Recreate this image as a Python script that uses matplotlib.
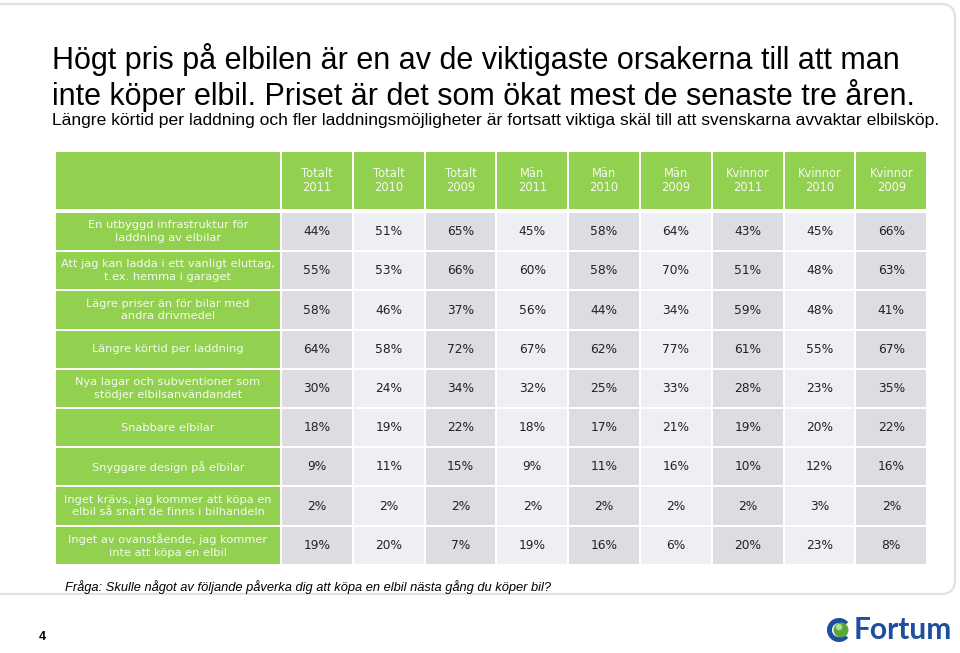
import matplotlib
matplotlib.use('Agg')
import matplotlib.pyplot as plt
from matplotlib.patches import Rectangle, FancyBboxPatch, Circle, Wedge

# ---- data ----
columns = ['Totalt\n2011', 'Totalt\n2010', 'Totalt\n2009',
           'Män\n2011', 'Män\n2010', 'Män\n2009',
           'Kvinnor\n2011', 'Kvinnor\n2010', 'Kvinnor\n2009']

row_labels = [
    'En utbyggd infrastruktur för\nladdning av elbilar',
    'Att jag kan ladda i ett vanligt eluttag,\nt.ex. hemma i garaget',
    'Lägre priser än för bilar med\nandra drivmedel',
    'Längre körtid per laddning',
    'Nya lagar och subventioner som\nstödjer elbilsanvändandet',
    'Snabbare elbilar',
    'Snyggare design på elbilar',
    'Inget krävs, jag kommer att köpa en\nelbil så snart de finns i bilhandeln',
    'Inget av ovanstående, jag kommer\ninte att köpa en elbil',
]

infrastruktur = [44, 51, 65, 45, 58, 64, 43, 45, 66]
eluttag       = [55, 53, 66, 60, 58, 70, 51, 48, 63]
lagre_priser  = [58, 46, 37, 56, 44, 34, 59, 48, 41]
kortid        = [64, 58, 72, 67, 62, 77, 61, 55, 67]
lagar         = [30, 24, 34, 32, 25, 33, 28, 23, 35]
snabbare      = [18, 19, 22, 18, 17, 21, 19, 20, 22]
design        = [9, 11, 15, 9, 11, 16, 10, 12, 16]
inget_kravs   = [2, 2, 2, 2, 2, 2, 2, 3, 2]
inget_av      = [19, 20, 7, 19, 16, 6, 20, 23, 8]
values = [infrastruktur, eluttag, lagre_priser, kortid, lagar,
          snabbare, design, inget_kravs, inget_av]

title_lines = ['Högt pris på elbilen är en av de viktigaste orsakerna till att man',
               'inte köper elbil. Priset är det som ökat mest de senaste tre åren.']
subtitle = ('Längre körtid per laddning och fler laddningsmöjligheter är fortsatt '
            'viktiga skäl till att svenskarna avvaktar elbilsköp.')
question = 'Fråga: Skulle något av följande påverka dig att köpa en elbil nästa gång du köper bil?'

# ---- layout (pixels) ----
GREEN = '#92d050'
DARK_CELL = '#dcdde2'
LIGHT_CELL = '#eeeff2'
GAP = 2
LABEL_X0, LABEL_X1 = 56, 282
COL_W = 71.8
HEAD_Y0, HEAD_Y1 = 152, 209
ROW_Y0, ROW_H = 213, 39.2

fig = plt.figure(figsize=(9.6, 6.53), dpi=100)
ax = fig.add_axes([0, 0, 1, 1])
ax.set_xlim(0, 960)
ax.set_ylim(653, 0)
ax.axis('off')

# slide frame
ax.add_patch(FancyBboxPatch((-30, 4), 985, 590, boxstyle='round,pad=0,rounding_size=14',
                            fc='white', ec='#e2e2e2', lw=1.6))

title_font = 'Liberation Sans'
ax.text(52, 60, title_lines[0], fontsize=22, family=title_font, va='center', color='black')
ax.text(52, 95, title_lines[1], fontsize=22, family=title_font, va='center', color='black')
ax.text(52, 121, subtitle, fontsize=12.6, family=title_font, va='center', color='black')

# header row
ax.add_patch(Rectangle((LABEL_X0, HEAD_Y0), LABEL_X1 - LABEL_X0 - GAP, HEAD_Y1 - HEAD_Y0,
                       fc=GREEN, ec='none'))
for j, col in enumerate(columns):
    x0 = LABEL_X1 + j * COL_W
    ax.add_patch(Rectangle((x0, HEAD_Y0), COL_W - GAP, HEAD_Y1 - HEAD_Y0, fc=GREEN, ec='none'))
    ax.text(x0 + (COL_W - GAP) / 2, (HEAD_Y0 + HEAD_Y1) / 2, col, ha='center', va='center',
            fontsize=8.3, color='#f4faee', family='DejaVu Sans', linespacing=1.05)

# body rows
for i, (label, row) in enumerate(zip(row_labels, values)):
    y0 = ROW_Y0 + i * ROW_H
    h = ROW_H - GAP
    ax.add_patch(Rectangle((LABEL_X0, y0), LABEL_X1 - LABEL_X0 - GAP, h, fc=GREEN, ec='none'))
    ax.text((LABEL_X0 + LABEL_X1 - GAP) / 2, y0 + h / 2, label, ha='center', va='center',
            fontsize=8.2, color='#f4faee', family='DejaVu Sans', linespacing=1.35)
    for j, v in enumerate(row):
        x0 = LABEL_X1 + j * COL_W
        fc = DARK_CELL if j % 2 == 0 else LIGHT_CELL
        ax.add_patch(Rectangle((x0, y0), COL_W - GAP, h, fc=fc, ec='none'))
        ax.text(x0 + (COL_W - GAP) / 2, y0 + h / 2, f'{v}%', ha='center', va='center',
                fontsize=8.8, color='#222222', family='DejaVu Sans')

ax.text(65, 587, question, fontsize=9.3, style='italic', family=title_font,
        va='center', color='black')

# page number
ax.text(42, 637, '4', fontsize=9, fontweight='bold', family='Liberation Sans',
        va='center', ha='center', color='black')

# Fortum logo
ax.add_patch(Wedge((839, 630), 12, 40, 320, width=5, fc='#1d4f9c', ec='none'))
ax.add_patch(Circle((841, 630), 7.5, fc='#5aa83a', ec='none'))
ax.add_patch(Circle((839, 627), 3.2, fc='#b6e08c', ec='none'))
ax.text(854, 630, 'Fortum', fontsize=21.5, fontweight='bold', family=['Lato', 'DejaVu Sans'],
        color='#1d4f9c', va='center', ha='left')

fig.savefig('out.png', dpi=100)
